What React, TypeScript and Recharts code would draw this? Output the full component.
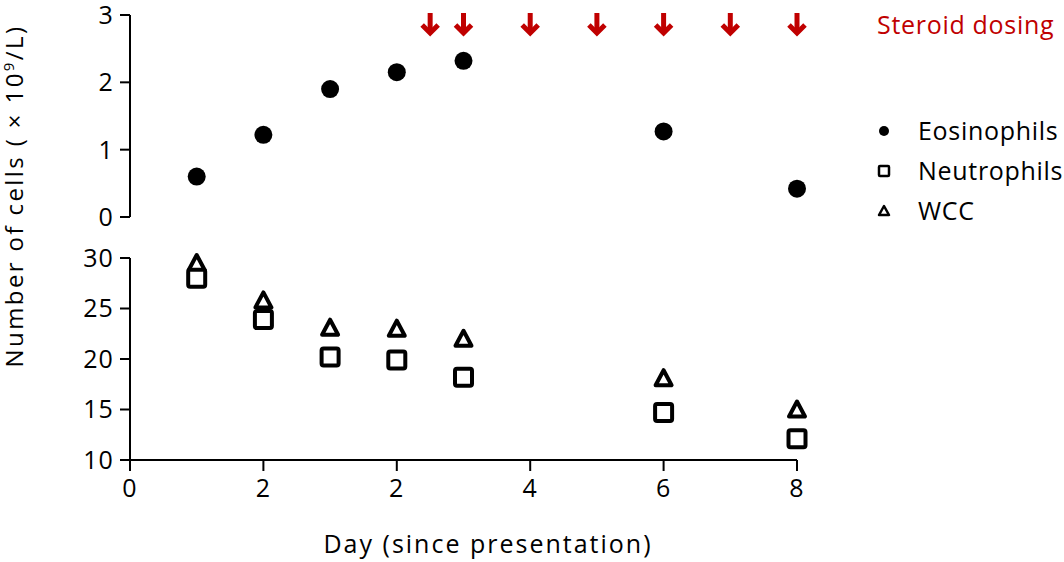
import { Legend, ReferenceLine, Scatter, ScatterChart, XAxis, YAxis } from "recharts";

// x positions on the axis (the original axis labels read 0, 2, 2, 4, 6, 8)
const dayPositions = [1, 2, 3, 4, 5, 8, 10];
const eosinophils = [0.6, 1.22, 1.9, 2.15, 2.32, 1.27, 0.42];
const neutrophils = [28.0, 23.9, 20.2, 19.9, 18.2, 14.7, 12.1];
const wcc = [29.5, 25.8, 23.1, 23.0, 22.0, 18.1, 15.0];
const steroidDoseDays = [4.5, 5, 6, 7, 8, 9, 10];

const xTicks = [0, 2, 4, 6, 8, 10];
const xTickLabels = ["0", "2", "2", "4", "6", "8"];
const topTicks = [0, 1, 2, 3];
const bottomTicks = [10, 15, 20, 25, 30];

const legendItems = [
  { name: "Eosinophils", marker: "circle" },
  { name: "Neutrophils", marker: "square" },
  { name: "WCC", marker: "triangle" }
];

const FONT = "'Open Sans', sans-serif";
const FS = 25;
const LS = 1.1;
const RED = "#c00000";
const W = 1064;
const H = 562;

const eosData = dayPositions.map((day, i) => ({ day, value: eosinophils[i] }));
const neutData = dayPositions.map((day, i) => ({ day, value: neutrophils[i] }));
const wccData = dayPositions.map((day, i) => ({ day, value: wcc[i] }));

const Dot = (p: any) => <circle cx={p.cx} cy={p.cy} r={9} fill="#000" />;

const Square = (p: any) => (
  <rect x={p.cx - 8.5} y={p.cy - 8.5} width={17} height={17} rx={2} fill="#fff" stroke="#000" strokeWidth={4} />
);

const Triangle = (p: any) => (
  <path
    d={`M${p.cx},${p.cy - 8} L${p.cx + 8},${p.cy + 7} L${p.cx - 8},${p.cy + 7} Z`}
    fill="none"
    stroke="#000"
    strokeWidth={4}
    strokeLinejoin="round"
  />
);

// arrow sits at the top of the plot, whichever end of the line recharts calls y1
const DoseArrow = (p: any) => {
  const x = p.x1;
  const y = Math.min(p.y1, p.y2);
  return (
    <g>
      <line x1={x} y1={y - 2} x2={x} y2={y + 17} stroke={RED} strokeWidth={5} />
      <polyline points={`${x - 8},${y + 10} ${x},${y + 18} ${x + 8},${y + 10}`} fill="none" stroke={RED} strokeWidth={5} />
    </g>
  );
};

const LegendMarker = ({ marker }: { marker: string }) => (
  <svg width={16} height={16} style={{ position: "absolute", left: 4, top: -8 }}>
    {marker === "circle" && <circle cx={8} cy={8} r={5} fill="#000" />}
    {marker === "square" && <rect x={3} y={3} width={10} height={10} rx={1} fill="none" stroke="#000" strokeWidth={2.5} />}
    {marker === "triangle" && (
      <path d="M8,3 L13,12 L3,12 Z" fill="none" stroke="#000" strokeWidth={2.5} strokeLinejoin="round" />
    )}
  </svg>
);

const LegendBox = () => (
  <div style={{ position: "relative", width: 190, height: 230, fontFamily: FONT, fontSize: FS, letterSpacing: 0.7 }}>
    <div style={{ position: "absolute", left: 5, top: 0, color: RED, lineHeight: "32px", whiteSpace: "nowrap" }}>
      Steroid dosing
    </div>
    {legendItems.map((item, i) => (
      <div key={item.name} style={{ position: "absolute", left: 0, top: 123 + i * 40 }}>
        <LegendMarker marker={item.marker} />
        <span style={{ position: "absolute", left: 46, top: -17, lineHeight: "32px", whiteSpace: "nowrap", color: "#000" }}>
          {item.name}
        </span>
      </div>
    ))}
  </div>
);

const YTitle = () => (
  <text
    x={23}
    y={196}
    transform="rotate(-90 23 196)"
    textAnchor="middle"
    fontSize={24}
    fill="#000"
    style={{ fontFamily: FONT, letterSpacing: 2.4 }}
  >
    Number of cells ( × 10
    <tspan dy={-9} fontSize={15}>9</tspan>
    <tspan dy={9}>/L)</tspan>
  </text>
);

const XTitle = (p: any) => (
  <text
    x={488}
    y={p.viewBox.y + 93}
    textAnchor="middle"
    fontSize={FS}
    fill="#000"
    style={{ fontFamily: FONT, letterSpacing: 2 }}
  >
    Day (since presentation)
  </text>
);

const axisStroke = { stroke: "#000", strokeWidth: 2 };
const tickStyle = { fill: "#000", fontSize: FS, fontFamily: FONT, letterSpacing: LS };

export default function App() {
  return (
    <div style={{ position: "absolute", left: 0, top: 0, width: W, height: H, background: "#fff", fontFamily: FONT }}>
      <div style={{ position: "absolute", left: 0, top: 0 }}>
        <ScatterChart width={W} height={H} margin={{ top: 258, right: 267, bottom: 0, left: 70 }}>
          <XAxis
            type="number"
            dataKey="day"
            domain={[0, 10]}
            ticks={xTicks}
            tickFormatter={(_v: number, i: number) => xTickLabels[i]}
            height={102}
            tickSize={11}
            tickMargin={8}
            axisLine={axisStroke}
            tickLine={axisStroke}
            tick={tickStyle}
            label={XTitle}
          />
          <YAxis
            type="number"
            dataKey="value"
            domain={[10, 30]}
            ticks={bottomTicks}
            width={60}
            tickSize={10}
            tickMargin={6}
            axisLine={axisStroke}
            tickLine={axisStroke}
            tick={tickStyle}
          />
          <Scatter name="WCC" data={wccData} shape={Triangle} isAnimationActive={false} />
          <Scatter name="Neutrophils" data={neutData} shape={Square} isAnimationActive={false} />
        </ScatterChart>
      </div>
      <div style={{ position: "absolute", left: 0, top: 0 }}>
        <ScatterChart width={W} height={H} margin={{ top: 15, right: 267, bottom: 345, left: 70 }}>
          <XAxis
            type="number"
            dataKey="day"
            domain={[0, 10]}
            ticks={xTicks}
            height={0}
            tick={false}
            tickLine={false}
            axisLine={axisStroke}
          />
          <YAxis
            type="number"
            dataKey="value"
            domain={[0, 3]}
            ticks={topTicks}
            width={60}
            tickSize={10}
            tickMargin={6}
            axisLine={axisStroke}
            tickLine={axisStroke}
            tick={tickStyle}
            label={YTitle}
          />
          {steroidDoseDays.map((d) => (
            <ReferenceLine key={d} x={d} shape={DoseArrow} ifOverflow="visible" />
          ))}
          <Scatter name="Eosinophils" data={eosData} shape={Dot} isAnimationActive={false} />
          <Legend
            layout="horizontal"
            verticalAlign="middle"
            align="center"
            content={LegendBox}
            wrapperStyle={{ position: "absolute", left: 872, top: 8, width: 190, height: 230 }}
          />
        </ScatterChart>
      </div>
    </div>
  );
}
